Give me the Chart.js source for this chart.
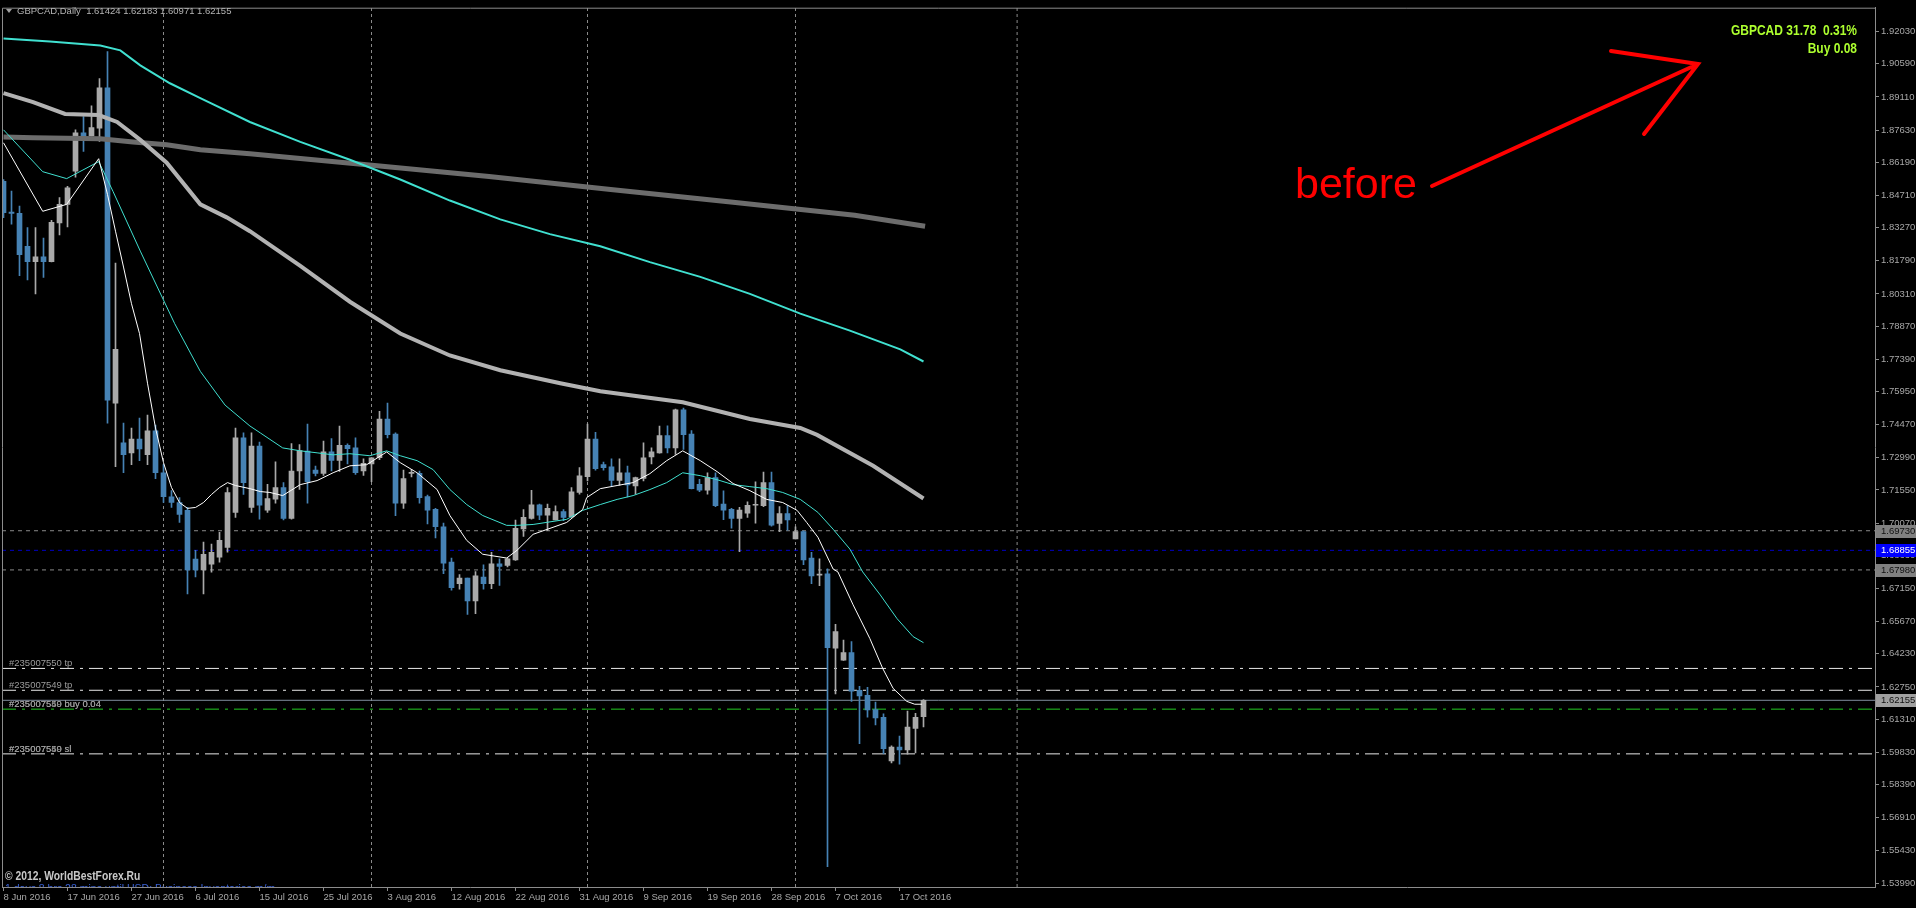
<!DOCTYPE html>
<html>
<head>
<meta charset="utf-8">
<script src="https://cdn.jsdelivr.net/npm/chart.js@4.4.1/dist/chart.umd.min.js"></script>
<style>
  html, body { margin: 0; padding: 0; background: #000; overflow: hidden; }
  #wrap { width: 1916px; height: 908px; }
</style>
</head>
<body>
<div id="wrap"><canvas id="chart" width="1916" height="908"></canvas></div>
<script>
// GBPCAD daily, bar 0 = 8 Jun 2016 (broker has Sunday bars)
const opens = [1.8534,1.8396,1.8391,1.8244,1.8175,1.8197,1.8175,1.8348,1.8431,1.8579,1.8750,1.8737,1.8771,1.8951,
  1.7543,1.7366,1.7321,1.7383,1.7313,1.7419,1.7232,1.7125,1.7099,1.7064,1.6846,1.6798,1.6824,1.6855,1.6899,1.7055,1.7388,
  1.7077,1.7351,1.7065,1.7114,1.7166,1.7028,1.7240,1.7329,1.7244,1.7229,1.7325,1.7287,1.7354,1.7343,1.7240,1.7272,1.7299,
  1.7472,1.7405,1.7096,1.7229,1.7229,1.7126,1.7069,1.6991,1.6833,1.6737,1.6762,1.6660,1.6766,1.6737,1.6825,1.6818,1.6843,
  1.6981,1.7028,1.7089,1.7043,1.7021,1.7059,1.7036,1.7144,1.7214,1.7383,1.7269,1.7259,1.7198,1.7232,1.7173,1.7207,1.7303,
  1.7321,1.7398,1.7343,1.7513,1.7405,1.7180,1.7154,1.7210,1.7092,1.7069,1.7028,1.7052,1.7087,1.7085,1.7188,1.7006,1.7050,
  1.6936,1.6969,1.6851,1.6775,1.6780,1.6448,1.6395,1.6429,1.6260,1.6238,1.6174,1.6140,1.5945,1.6007,1.5994,1.6090,1.61424];
const highs = [1.8542,1.8490,1.8423,1.8327,1.8327,1.8280,1.8360,1.8461,1.8511,1.8764,1.8823,1.8871,1.8993,1.9114,
  1.8169,1.7454,1.7432,1.7476,1.7490,1.7445,1.7268,1.7152,1.7121,1.7077,1.6886,1.6922,1.6913,1.6966,1.7166,1.7432,1.7410,
  1.7410,1.7369,1.7180,1.7281,1.7188,1.7362,1.7358,1.7450,1.7262,1.7373,1.7385,1.7440,1.7361,1.7388,1.7294,1.7300,1.7506,
  1.7543,1.7410,1.7244,1.7247,1.7240,1.7132,1.7073,1.7007,1.6851,1.6777,1.6762,1.6791,1.6821,1.6877,1.6848,1.6852,1.7021,
  1.7067,1.7154,1.7092,1.7092,1.7084,1.7067,1.7166,1.7255,1.7450,1.7413,1.7280,1.7294,1.7294,1.7262,1.7213,1.7366,1.7343,
  1.7440,1.7442,1.7516,1.7521,1.7420,1.7203,1.7232,1.7232,1.7151,1.7073,1.7077,1.7102,1.7192,1.7235,1.7235,1.7081,1.7085,
  1.6991,1.6973,1.6877,1.6848,1.6803,1.6555,1.6485,1.6478,1.6278,1.6274,1.6208,1.6155,1.6012,1.6056,1.6167,1.6157,1.62183];
const lows = [1.8372,1.8342,1.8112,1.8093,1.8031,1.8105,1.8174,1.8294,1.8330,1.8552,1.8667,1.8736,1.8712,1.7454,
  1.7259,1.7232,1.7268,1.7286,1.7268,1.7206,1.7099,1.7077,1.7010,1.6691,1.6767,1.6691,1.6788,1.6833,1.6877,1.7033,1.7135,
  1.7055,1.7025,1.7055,1.7096,1.7021,1.7025,1.7158,1.7096,1.7218,1.7220,1.7240,1.7238,1.7272,1.7225,1.7220,1.7192,1.7291,
  1.7388,1.7040,1.7073,1.7213,1.7096,1.7003,1.6941,1.6781,1.6707,1.6712,1.6599,1.6603,1.6712,1.6714,1.6729,1.6811,1.6840,
  1.6948,1.7025,1.7022,1.6973,1.7021,1.7018,1.7033,1.7136,1.7195,1.7244,1.7244,1.7173,1.7176,1.7124,1.7136,1.7195,1.7272,
  1.7320,1.7321,1.7314,1.7336,1.7160,1.7147,1.7136,1.7081,1.7022,1.6985,1.6880,1.7033,1.7007,1.7081,1.6993,1.6969,1.6976,
  1.6936,1.6821,1.6737,1.6728,1.5472,1.6244,1.6394,1.6211,1.6022,1.6140,1.6105,1.5977,1.5936,1.5930,1.5975,1.5981,1.60971];
const closes = [1.8394,1.8390,1.8206,1.8175,1.8197,1.8175,1.8351,1.8431,1.8505,1.8750,1.8737,1.8774,1.8951,1.7556,
  1.7783,1.7313,1.7383,1.7339,1.7419,1.7232,1.7125,1.7099,1.7046,1.6798,1.6798,1.6868,1.6877,1.6930,1.7144,1.7388,1.7188,
  1.7351,1.7087,1.7117,1.7166,1.7028,1.7240,1.7331,1.7192,1.7229,1.7325,1.7287,1.7354,1.7340,1.7232,1.7274,1.7299,1.7472,
  1.7402,1.7096,1.7206,1.7230,1.7121,1.7065,1.6991,1.6828,1.6719,1.6762,1.6660,1.6771,1.6737,1.6825,1.6814,1.6848,1.6984,
  1.7033,1.7089,1.7043,1.7073,1.7059,1.7033,1.7147,1.7218,1.7383,1.7250,1.7255,1.7198,1.7232,1.7178,1.7210,1.7299,1.7325,
  1.7398,1.7343,1.7513,1.7402,1.7161,1.7154,1.7210,1.7085,1.7065,1.7028,1.7065,1.7087,1.7088,1.7188,1.6998,1.7050,1.7021,
  1.6969,1.6843,1.6771,1.6777,1.6451,1.6522,1.6429,1.6256,1.6235,1.6173,1.6137,1.5999,1.6007,1.5994,1.6096,1.6140,1.62155];

// moving averages (bar index, price)
const maFastIdx = [0,4.9,7.9,11.9,13,14,15,16,17,18,19,20,21,22,23,24,25,26,27,28,29,30.8,32.1,33.3,34.9,37.1,39.2,41.2,43.3,45.4,47.9,49.6,51.7,54.2,55.8,57.9,59.9,62.9,64.2,66.2,70.4,72.4,72.9,74.6,76.7,78.7,80.8,82.9,84.9,87.1,89.2,91.2,93.3,95.4,97.4,99.2,100.4,101.8,103.7,104.3,106.2,108.3,109.9,111.2,112.9,113.9,114.8];
const maFast = [1.8706,1.8400,1.8431,1.8635,1.8475,1.8311,1.8151,1.7987,1.7854,1.7632,1.7432,1.7277,1.7166,1.7099,1.7073,1.7077,1.7099,1.7135,1.7166,1.7188,1.7175,1.7161,1.7148,1.7144,1.7130,1.7179,1.7197,1.7232,1.7263,1.7268,1.7325,1.7277,1.7232,1.7157,1.7041,1.6930,1.6868,1.6851,1.6886,1.6957,1.7010,1.7068,1.7121,1.7161,1.7175,1.7188,1.7228,1.7286,1.7330,1.7286,1.7237,1.7184,1.7152,1.7113,1.7099,1.7064,1.7010,1.6944,1.6802,1.6789,1.6642,1.6491,1.6358,1.6269,1.6211,1.6198,1.6198];
const maMidIdx = [0,4.9,7.9,11.9,13.7,17.1,21.4,24.6,27.7,30.8,32.1,34.9,37.1,39.2,41.2,43.3,45.8,47.9,49.6,51.7,53.7,55.8,57.9,59.9,62.9,64.2,66.2,70.4,72.4,74.6,76.7,78.7,80.8,82.9,84.9,87.1,89.2,91.2,93.3,95.4,97.4,99.6,101.8,103.7,105.8,107.4,109.6,111.7,113.7,115];
const maMid = [1.8764,1.8577,1.8546,1.8622,1.8488,1.8222,1.7898,1.7685,1.7534,1.7441,1.7410,1.7343,1.7330,1.7321,1.7312,1.7317,1.7308,1.7330,1.7308,1.7286,1.7246,1.7157,1.7090,1.7041,1.6997,1.6997,1.7001,1.7024,1.7064,1.7090,1.7113,1.7130,1.7157,1.7188,1.7232,1.7219,1.7201,1.7179,1.7170,1.7161,1.7144,1.7113,1.7055,1.6980,1.6891,1.6789,1.6686,1.6580,1.6500,1.6473];
const ma50Idx = [0,3.7,7.7,11.9,14.2,17.1,20.4,24.6,27.9,30.8,37.1,43.3,49.6,55.8,62.1,69.6,74.6,84.9,93.3,99.6,101.7,108.7,115];
const ma50 = [1.8928,1.8888,1.8835,1.8830,1.8799,1.8719,1.8617,1.8431,1.8373,1.8311,1.8156,1.7996,1.7854,1.7756,1.7690,1.7632,1.7596,1.7547,1.7472,1.7432,1.7401,1.7263,1.7117];
const ma100Idx = [0,5.8,12.1,14.6,17.1,20.8,24.6,30.8,37.1,43.3,49.6,55.8,62.1,68.3,74.6,80.8,87.1,93.3,99.6,105.8,112.1,115];
const ma100 = [1.9172,1.9159,1.9141,1.9119,1.9052,1.8972,1.8906,1.8799,1.8710,1.8630,1.8542,1.8448,1.8364,1.8298,1.8244,1.8173,1.8107,1.8031,1.7943,1.7867,1.7783,1.7729];
const ma200Idx = [0,3.7,12.1,16.2,20.4,24.6,30.8,45.4,60.7,75.9,91.2,106.4,115.2];
const ma200 = [1.8732,1.8728,1.8724,1.8710,1.8697,1.8675,1.8657,1.8608,1.8555,1.8497,1.8440,1.8382,1.8333];

const dateTicks = [0,8,16,24,32,40,48,56,64,72,80,88,96,104,112];
const dateLabels = ['8 Jun 2016','17 Jun 2016','27 Jun 2016','6 Jul 2016','15 Jul 2016','25 Jul 2016','3 Aug 2016',
  '12 Aug 2016','22 Aug 2016','31 Aug 2016','9 Sep 2016','19 Sep 2016','28 Sep 2016','7 Oct 2016','17 Oct 2016'];
const priceTicks = [1.92030,1.90590,1.89110,1.87630,1.86190,1.84710,1.83270,1.81790,1.80310,1.78870,1.77390,1.75950,
  1.74470,1.72990,1.71550,1.70070,1.68630,1.67150,1.65670,1.64230,1.62750,1.61310,1.59830,1.58390,1.56910,1.55430,1.53990];

// month separators (bar index of first bar of month) and a vertical line
const separators = [20, 46, 73, 99, 126.7];
// price levels
const levelGray = [1.69730, 1.67980];
const levelBlue = 1.68855;
const bidPrice = 1.62155;
const tpLevels = [1.63579, 1.62603];
const slLevel = 1.59762;
const openLevel = 1.61760;

const xMin = -0.1875, xMax = 233.9375;
const yMin = 1.53815, yMax = 1.93095;

const bull = '#a9a9a9', bear = '#4682b4';
const idx = closes.map((_, i) => i);
const colors = idx.map(i => closes[i] >= opens[i] ? bull : bear);
const pts = (xs, ys) => xs.map((x, k) => ({ x: x, y: ys[k] }));
const hline = (v) => [{ x: xMin, y: v }, { x: xMax, y: v }];
const vline = (v) => [{ x: v, y: yMin }, { x: v, y: yMax }];

function lineDs(data, color, width, dash, order) {
  return { type: 'line', data: data, borderColor: color, borderWidth: width, borderDash: dash || [],
    pointRadius: 0, tension: 0, fill: false, order: order };
}

const datasets = [];
separators.forEach(s => datasets.push(lineDs(vline(s), '#8a8a8a', 1, [3, 3], 20)));
levelGray.forEach(v => datasets.push(lineDs(hline(v), '#8a8a8a', 1, [4, 4], 19)));
datasets.push(lineDs(hline(levelBlue), '#0000c8', 1, [4, 4], 19));
tpLevels.forEach(v => datasets.push(lineDs(hline(v), '#e8e8e8', 1, [14, 6, 3, 6], 18)));
datasets.push(lineDs(hline(slLevel), '#e8e8e8', 1, [14, 6, 3, 6], 18));
datasets.push(lineDs(hline(openLevel), '#22cc22', 1, [14, 6, 3, 6], 18));
datasets.push(lineDs(hline(bidPrice), '#7f8c9c', 1, [], 18));
datasets.push({ type: 'bar', data: idx.map(i => ({ x: i, y: [lows[i], highs[i]] })), backgroundColor: colors,
  barThickness: 1, grouped: false, order: 12 });
datasets.push({ type: 'bar', data: idx.map(i => ({ x: i, y: [opens[i], closes[i]] })), backgroundColor: colors,
  barThickness: 5, minBarLength: 1, grouped: false, order: 11 });
datasets.push(lineDs(pts(ma200Idx, ma200), '#6c6c6c', 5, [], 5));
datasets.push(lineDs(pts(ma50Idx, ma50), '#b2b2b2', 4, [], 4));
datasets.push(lineDs(pts(ma100Idx, ma100), '#40e0d0', 2, [], 3));
datasets.push(lineDs(pts(maMidIdx, maMid), '#40e0d0', 1, [], 2));
datasets.push(lineDs(pts(maFastIdx, maFast), '#ffffff', 1, [], 1));

const tickFont = { family: 'Liberation Sans', size: 9.5 };
const axisColor = '#a8a8a8';

// condensed bold text (no narrow font installed, so squeeze a normal one)
function narrowText(ctx, text, x, y, size, align, squeeze) {
  ctx.save();
  ctx.translate(x, y);
  ctx.scale(squeeze || 0.8, 1);
  ctx.font = 'bold ' + size + 'px "Liberation Sans"';
  ctx.textAlign = align;
  ctx.fillText(text, 0, 0);
  ctx.restore();
}

const overlay = {
  id: 'overlay',
  afterDraw(chart) {
    const { ctx, chartArea: a, scales: { y } } = chart;
    ctx.save();
    // frame
    ctx.strokeStyle = '#8c8c8c';
    ctx.lineWidth = 1;
    ctx.beginPath();
    ctx.moveTo(a.left + 0.5, a.bottom); ctx.lineTo(a.left + 0.5, a.top + 0.5); ctx.lineTo(a.right, a.top + 0.5);
    ctx.stroke();

    // order labels
    ctx.font = '9.5px "Liberation Sans"';
    ctx.fillStyle = '#9c9c9c';
    ctx.textBaseline = 'alphabetic';
    ctx.textAlign = 'left';
    ctx.fillText('#235007550 tp', a.left + 7, y.getPixelForValue(tpLevels[0]) - 2);
    ctx.fillText('#235007549 tp', a.left + 7, y.getPixelForValue(tpLevels[1]) - 2);
    ctx.fillText('#235007549 buy 0.04', a.left + 7, y.getPixelForValue(openLevel) - 2);
    ctx.fillText('#235007550 buy 0.04', a.left + 7, y.getPixelForValue(openLevel) - 2);
    ctx.fillText('#235007549 sl', a.left + 7, y.getPixelForValue(slLevel) - 2);
    ctx.fillText('#235007550 sl', a.left + 7, y.getPixelForValue(slLevel) - 2);

    // price tags on the right axis
    const tag = (v, bg, fg) => {
      const py = Math.round(y.getPixelForValue(v));
      ctx.fillStyle = bg;
      ctx.fillRect(a.right + 1, py - 6, 40, 13);
      ctx.fillStyle = fg;
      ctx.textBaseline = 'middle';
      ctx.fillText(v.toFixed(5), a.right + 6, py + 0.5);
    };
    tag(levelGray[0], '#808080', '#101010');
    tag(levelBlue, '#0000ff', '#ffffff');
    tag(levelGray[1], '#808080', '#101010');
    tag(bidPrice, '#a0a0a0', '#101010');

    // header
    ctx.fillStyle = '#a0a0a0';
    ctx.beginPath();
    ctx.moveTo(6, 9); ctx.lineTo(12, 9); ctx.lineTo(9, 13); ctx.closePath(); ctx.fill();
    ctx.font = '9.5px "Liberation Sans"';
    ctx.fillStyle = '#b4b4b4';
    ctx.textBaseline = 'middle';
    ctx.fillText('GBPCAD,Daily  1.61424 1.62183 1.60971 1.62155', 17, 11);

    // info text top right
    ctx.fillStyle = '#adff2f';
    ctx.textBaseline = 'alphabetic';
    narrowText(ctx, 'GBPCAD 31.78  0.31%', 1857, 35, 15, 'right');
    narrowText(ctx, 'Buy 0.08', 1857, 53, 15, 'right');

    // red annotation
    ctx.textAlign = 'left';
    ctx.fillStyle = '#ff0000';
    ctx.font = '43px "Liberation Sans"';
    ctx.fillText('before', 1295, 198);
    ctx.strokeStyle = '#ff0000';
    ctx.lineWidth = 4;
    ctx.lineCap = 'round';
    ctx.beginPath();
    ctx.moveTo(1432, 186); ctx.lineTo(1698, 64);
    ctx.moveTo(1611, 51); ctx.lineTo(1698, 64); ctx.lineTo(1644, 134);
    ctx.stroke();

    // bottom left texts
    ctx.fillStyle = '#c8c8c8';
    narrowText(ctx, '\u00a9 2012, WorldBestForex.Ru', 5, 880, 12, 'left', 0.86);
    ctx.beginPath();
    ctx.rect(a.left, a.top, a.right - a.left, a.bottom - a.top);
    ctx.clip();
    ctx.font = '10.5px "Liberation Sans"';
    ctx.fillStyle = '#3a62d8';
    ctx.textAlign = 'left';
    ctx.fillText('1 days 8 hrs 28 mins until USD: Business Inventories m/m', 5, 892);
    ctx.restore();
  }
};

new Chart(document.getElementById('chart'), {
  type: 'bar',
  data: { datasets: datasets },
  options: {
    responsive: false,
    animation: false,
    devicePixelRatio: 1,
    layout: { padding: { left: 2, top: 2, right: 0, bottom: 0 } },
    plugins: { legend: { display: false }, tooltip: { enabled: false } },
    scales: {
      x: {
        type: 'linear', position: 'bottom', min: xMin, max: xMax, offset: false,
        afterBuildTicks: s => { s.ticks = dateTicks.map(v => ({ value: v })); },
        afterFit: s => { s.height = 21; },
        ticks: { autoSkip: false, maxRotation: 0, minRotation: 0, align: 'start', padding: 1,
          color: axisColor, font: tickFont, callback: (v, i) => dateLabels[i] },
        grid: { drawOnChartArea: false, drawTicks: true, tickLength: 4, color: '#8c8c8c', offset: false },
        border: { display: true, color: '#8c8c8c' }
      },
      y: {
        type: 'linear', position: 'right', min: yMin, max: yMax,
        afterBuildTicks: s => { s.ticks = priceTicks.map(v => ({ value: v })); },
        afterFit: s => { s.width = 41; },
        ticks: { autoSkip: false, padding: 2, color: axisColor, font: tickFont,
          callback: v => Number(v).toFixed(5) },
        grid: { drawOnChartArea: false, drawTicks: true, tickLength: 4, color: '#8c8c8c' },
        border: { display: true, color: '#8c8c8c' }
      }
    }
  },
  plugins: [overlay]
});
</script>
</body>
</html>
